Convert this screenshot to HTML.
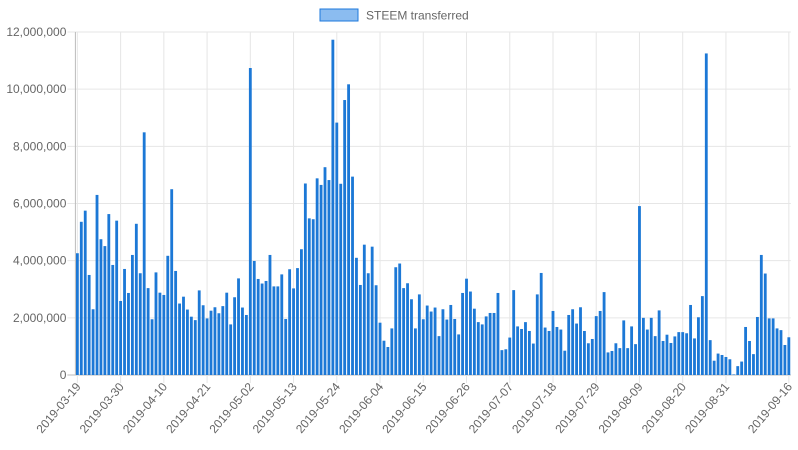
<!DOCTYPE html>
<html><head><meta charset="utf-8"><style>
body{margin:0;background:#fff;}
svg{display:block;font-family:"Liberation Sans",sans-serif;}
</style></head><body>
<svg id="chart" width="798" height="450" xmlns="http://www.w3.org/2000/svg">
<g>
<rect x="320" y="9" width="38" height="12" fill="#8bbcf0" stroke="#1e78dc" stroke-width="1"/>
<text x="366" y="19.5" font-size="12" fill="#666">STEEM transferred</text>
</g>
<g id="grid"></g>
<g id="bars"></g>
<g id="axes"></g>
</svg>
<script>
const startDate = "2019-03-19";
const values = [4.26,5.36,5.75,3.5,2.3,6.3,4.75,4.51,5.63,3.85,5.4,2.59,3.71,2.87,4.2,5.29,3.56,8.49,3.04,1.95,3.59,2.88,2.8,4.17,6.5,3.64,2.5,2.74,2.29,2.04,
1.92,2.96,2.44,1.98,2.25,2.37,2.16,2.41,2.88,1.77,2.72,3.38,2.36,2.1,10.74,3.99,3.36,3.2,3.29,4.2,3.1,3.1,3.52,1.96,3.7,3.03,3.74,4.4,6.7,5.48,5.45,
6.88,6.65,7.27,6.82,11.73,8.83,6.69,9.62,10.17,6.94,4.1,3.15,4.56,3.56,4.49,3.14,1.83,1.2,0.98,1.63,3.77,3.9,3.04,3.21,2.65,1.63,2.82,1.95,2.43,2.22,
2.36,1.36,2.3,1.94,2.45,1.96,1.42,2.87,3.37,2.92,2.32,1.85,1.77,2.05,2.17,2.17,2.87,0.87,0.9,1.31,2.97,1.7,1.61,1.85,1.54,1.1,2.82,3.57,1.66,1.54,2.24,
1.68,1.59,0.85,2.1,2.3,1.8,2.37,1.54,1.11,1.26,2.06,2.24,2.9,0.79,0.84,1.11,0.94,1.91,0.94,1.7,1.08,5.91,2.0,1.59,2.0,1.36,2.26,1.19,1.41,1.12,1.35,
1.5,1.5,1.46,2.45,1.28,2.02,2.76,11.25,1.22,0.5,0.75,0.7,0.63,0.55,0.02,0.31,0.47,1.68,1.19,0.73,2.03,4.2,3.55,1.98,1.98,1.63,1.57,1.05,1.32];
const yTicks = [0,2,4,6,8,10,12];
const yTickLabels = ["0","2,000,000","4,000,000","6,000,000","8,000,000","10,000,000","12,000,000"];

const NS="http://www.w3.org/2000/svg";
const L=75.4, R=790.8, T=32, B=375, yMax=12;
const n=values.length, slot=(R-L)/n;
const categories=[];
{const d0=new Date(startDate+"T00:00:00Z");for(let i=0;i<n;i++){const d=new Date(d0.getTime()+i*864e5);categories.push(d.toISOString().slice(0,10));}}
const xTickIdx=[];for(let i=0;i<n;i+=11){if(n-1-i>=11)xTickIdx.push(i);}xTickIdx.push(n-1);
const x=i=>L+(i+0.5)*slot;
const y=v=>B-(v/yMax)*(B-T);
function mk(t,a,p){const e=document.createElementNS(NS,t);for(const k in a)e.setAttribute(k,a[k]);p.appendChild(e);return e;}
const grid=document.getElementById('grid'),bars=document.getElementById('bars'),axes=document.getElementById('axes');
yTicks.forEach((t,k)=>{
 const g=mk('line',{x1:L-8,x2:R,y1:y(t),y2:y(t),stroke:t===0?'#bbb':'#e6e6e6','stroke-width':1},grid);
 
 
 const tx=mk('text',{x:L-9,y:y(t)+4,'text-anchor':'end','font-size':12,fill:'#666'},axes);
 tx.textContent=yTickLabels[k];
 
 
});
xTickIdx.forEach(i=>{
 const g=mk('line',{x1:x(i),x2:x(i),y1:T,y2:B+8,stroke:'#e6e6e6','stroke-width':1},grid);
 
 
 const px=x(i)+4,py=B+12;
 const tx=mk('text',{x:px,y:py,'text-anchor':'end','font-size':12,fill:'#666',transform:`rotate(-50 ${px} ${py})`},axes);
 tx.textContent=categories[i];
 
 
});
const ax=mk('line',{x1:L,x2:L,y1:T,y2:B,stroke:'#bbb','stroke-width':1},axes);


const bw=slot*0.72;
values.forEach((v,i)=>{
 const r=mk('rect',{x:x(i)-bw/2,y:y(v),width:bw,height:B-y(v),fill:'#1c78d6'},bars);
 
 
});
</script>
</body></html>
